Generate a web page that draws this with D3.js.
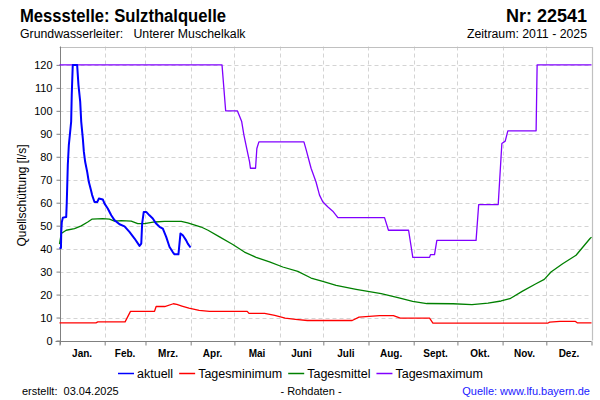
<!DOCTYPE html>
<html>
<head>
<meta charset="utf-8">
<script src="https://cdn.jsdelivr.net/npm/d3@7"></script>
<style>
  html, body { margin: 0; padding: 0; background: #fff; }
  svg { display: block; font-family: "Liberation Sans", Arial, sans-serif; }
</style>
</head>
<body>
<svg id="chart" width="600" height="400"></svg>
<script>
// ---------- data (day of year, value in l/s) ----------
const monthLabels = ["Jan.", "Feb.", "Mrz.", "Apr.", "Mai", "Juni", "Juli", "Aug.", "Sept.", "Okt.", "Nov.", "Dez."];
const monthStarts = [0, 31, 59, 90, 120, 151, 181, 212, 243, 273, 304, 334, 365];
const yTicks = [0, 10, 20, 30, 40, 50, 60, 70, 80, 90, 100, 110, 120];

const aktuellDays = [0, 1.0, 1.2, 1.6, 2.3, 4.6, 5, 5.7, 6.4, 7.1, 8, 8.4, 9.1, 12.1, 13, 14.2, 14.9, 16, 16.7, 17.6, 19, 20.1, 21.3, 22.4, 24, 25.9, 27, 29.7, 30.9, 33.1, 35.5, 37.7, 41.2, 44.6, 48, 51.5, 54.9, 56.1, 56.7, 57.8, 59.5, 61.7, 64, 66.3, 68.6, 70.9, 73.2, 75.5, 77.7, 78.9, 81.6, 83, 84.6, 86.9, 88, 89.9];
const aktuellVals = [40.3, 40.3, 47.3, 51.6, 53.5, 53.8, 60.3, 76.4, 85.1, 89.5, 95.3, 106.9, 120, 120, 111.3, 104, 95.3, 88, 82.2, 77.8, 73.4, 69.1, 66.2, 63.3, 60.3, 60.3, 61.8, 61.4, 59.6, 57.5, 54.5, 52.4, 50.6, 49.7, 47.3, 44.4, 41.2, 42.2, 50.9, 56, 56, 54.5, 53.1, 50.9, 49.5, 48.7, 45.1, 40.7, 38.5, 37.5, 37.5, 46.6, 45.8, 43.6, 42.2, 40.5];

const minDays = [0, 25, 26.3, 45, 48.7, 65.2, 66.3, 72.2, 78.1, 80.5, 84, 88.8, 95.8, 102.9, 128.8, 130, 140.7, 147.7, 154.8, 161.9, 170.1, 200.8, 205.5, 219.6, 229.1, 233.8, 253.9, 256.2, 335.2, 336.3, 343.4, 354, 355.2, 365];
const minVals = [7.7, 7.7, 8.1, 8.1, 12.7, 12.7, 14.8, 14.8, 16, 15.7, 15, 14.1, 13.1, 12.7, 12.7, 11.8, 11.8, 10.9, 9.7, 9.2, 8.7, 8.7, 10.2, 10.8, 10.8, 9.7, 9.7, 7.6, 7.6, 8, 8.3, 8.3, 7.7, 7.7];

const meanDays = [0, 1.2, 4.6, 10.3, 14.9, 19.4, 22.2, 29.7, 34.3, 37.7, 42.3, 49.2, 53.7, 58.3, 65.2, 72, 83.5, 88, 97.2, 101.9, 109.8, 118.9, 126.9, 134.9, 144.1, 153.2, 163.5, 172.6, 180.6, 189.8, 203.5, 220.7, 232.9, 242.3, 252, 270, 283, 294, 303, 309, 317.7, 326.9, 332.6, 337.2, 345.2, 354.4, 364, 365];
const meanVals = [42, 46.6, 48, 48.7, 49.9, 51.6, 52.8, 53.1, 52.8, 52, 52.2, 52, 50.9, 50.9, 51.6, 51.9, 51.9, 51.2, 49.4, 48, 45.1, 41.8, 38.5, 36.2, 34.2, 32, 30.1, 27.2, 25.7, 24, 22.3, 20.4, 18.6, 17, 16.1, 16, 15.6, 16.3, 17.2, 18.2, 21.5, 24.7, 26.6, 29.8, 33.4, 37.1, 44.4, 45];

const maxDays = [0, 111.5, 114, 122, 123, 125, 126.5, 128, 130.4, 131, 134.5, 135.4, 136.8, 167.7, 169.3, 172.6, 176, 178.4, 180.6, 184, 187.5, 191, 223, 225.7, 239.5, 242.4, 253.9, 254.6, 257.3, 258.9, 285.8, 287.6, 301, 303.5, 305.8, 307.6, 327, 327.7, 365];
const maxVals = [120, 120, 100, 100, 98.5, 95.3, 89.5, 85, 77.8, 75, 75, 83.6, 86.5, 86.5, 82.9, 75, 69, 63.3, 60.4, 58.2, 56.3, 53.5, 53.5, 48, 48, 36.2, 36.2, 37.4, 37.4, 43.6, 43.6, 59.2, 59.2, 85.8, 86.8, 91.3, 91.3, 120, 120];

const seriesNames = ["aktuell", "Tagesminimum", "Tagesmittel", "Tagesmaximum"];
const seriesColors = ["#0000ff", "#ff0000", "#008000", "#8000ff"];

// ---------- drawing ----------
const svg = d3.select("#chart");
const font = '"Liberation Sans", Arial, sans-serif';

const x = d3.scaleLinear().domain([0, 365]).range([59.5, 591.5]);
const y = d3.scaleLinear().domain([0, 128]).range([340.5, 46.5]);

// gridlines
const grid = svg.append("g").attr("stroke", "#d4d4d4").attr("stroke-dasharray", "4,3").attr("stroke-width", 1);
grid.selectAll("line.h").data(yTicks.filter(d => d > 0)).join("line")
  .attr("x1", x(0)).attr("x2", x(365))
  .attr("y1", d => Math.round(y(d)) + 0.5).attr("y2", d => Math.round(y(d)) + 0.5);
grid.selectAll("line.v").data(monthStarts.slice(1, 12)).join("line")
  .attr("x1", d => Math.round(x(d)) + 0.5).attr("x2", d => Math.round(x(d)) + 0.5)
  .attr("y1", y(128)).attr("y2", y(0));

// frame (top/right)
svg.append("path")
  .attr("d", `M${x(0)},${Math.round(y(128)) + 0.5}H${Math.round(x(365)) + 0.5}V${y(0)}`)
  .attr("fill", "none").attr("stroke", "#c0c0c0").attr("stroke-width", 1.2);

// axes
const yAxis = d3.axisLeft(y).tickValues(yTicks).tickSize(4).tickPadding(4).tickFormat(d3.format("d"));
const gy = svg.append("g").attr("transform", `translate(${Math.round(x(0)) + 0.5},0)`).call(yAxis);
gy.select(".domain").attr("stroke", "#808080").attr("d", `M0,${y(128)}V${y(0) + 4}`);
gy.selectAll(".tick line").attr("stroke", "#808080");
gy.selectAll(".tick text").attr("font-family", font).attr("font-size", 11).attr("fill", "#000");

const xAxis = d3.axisBottom(x).tickValues(monthStarts).tickSize(4).tickFormat("");
const gx = svg.append("g").attr("transform", `translate(0,${Math.round(y(0)) + 0.5})`).call(xAxis);
gx.select(".domain").attr("stroke", "#808080").attr("d", `M${x(0) - 4},0H${x(365)}`);
gx.selectAll(".tick line").attr("stroke", "#808080");

svg.append("g").selectAll("text").data(monthLabels).join("text")
  .attr("x", (d, i) => (x(monthStarts[i]) + x(monthStarts[i + 1])) / 2)
  .attr("y", 357)
  .attr("text-anchor", "middle")
  .attr("font-family", font).attr("font-size", 10).attr("font-weight", "bold")
  .text(d => d);

// series
const zip = (ds, vs) => ds.map((d, i) => [d, vs[i]]);
const line = d3.line().x(d => x(d[0])).y(d => y(d[1]));
const seriesData = [
  zip(aktuellDays, aktuellVals),
  zip(minDays, minVals),
  zip(meanDays, meanVals),
  zip(maxDays, maxVals)
];
const widths = [2, 1.3, 1.3, 1.3];
const drawOrder = [3, 2, 1, 0];
drawOrder.forEach(i => {
  svg.append("path").datum(seriesData[i])
    .attr("d", line)
    .attr("fill", "none")
    .attr("stroke", seriesColors[i])
    .attr("stroke-width", widths[i])
    .attr("stroke-linejoin", "round");
});

// axis title
svg.append("text")
  .attr("transform", `translate(26,${(y(0) + y(128)) / 2 + 2}) rotate(-90)`)
  .attr("text-anchor", "middle")
  .attr("font-family", font).attr("font-size", 12)
  .text("Quellschüttung [l/s]");

// titles
svg.append("text").attr("x", 20).attr("y", 22)
  .attr("font-family", font).attr("font-size", 17.5).attr("font-weight", "bold")
  .attr("textLength", 206).attr("lengthAdjust", "spacingAndGlyphs")
  .text("Messstelle: Sulzthalquelle");
svg.append("text").attr("x", 587).attr("y", 22).attr("text-anchor", "end")
  .attr("font-family", font).attr("font-size", 18).attr("font-weight", "bold")
  .text("Nr: 22541");
svg.append("text").attr("x", 20).attr("y", 38)
  .attr("font-family", font).attr("font-size", 12.3).attr("xml:space", "preserve")
  .text("Grundwasserleiter:   Unterer Muschelkalk");
svg.append("text").attr("x", 587).attr("y", 38).attr("text-anchor", "end")
  .attr("font-family", font).attr("font-size", 12.3)
  .text("Zeitraum: 2011 - 2025");

// legend
const legend = svg.append("g");
let lx = 0;
seriesNames.forEach((name, i) => {
  const g = legend.append("g").attr("transform", `translate(${lx},0)`);
  g.append("line").attr("x1", 0).attr("x2", 16).attr("y1", 0.5).attr("y2", 0.5)
    .attr("stroke", seriesColors[i]).attr("stroke-width", 1.5);
  const t = g.append("text").attr("x", 19).attr("y", 5)
    .attr("font-family", font).attr("font-size", 12.5).text(name);
  lx += 19 + t.node().getComputedTextLength() + 6;
});
const legendW = lx - 6;
legend.attr("transform", `translate(${Math.round(300 - legendW / 2)},373)`);

// footer
svg.append("text").attr("x", 22).attr("y", 395)
  .attr("font-family", font).attr("font-size", 11).attr("xml:space", "preserve")
  .text("erstellt:  03.04.2025");
svg.append("text").attr("x", 311).attr("y", 395).attr("text-anchor", "middle")
  .attr("font-family", font).attr("font-size", 11)
  .text("- Rohdaten -");
svg.append("text").attr("x", 590).attr("y", 395).attr("text-anchor", "end")
  .attr("font-family", font).attr("font-size", 11).attr("fill", "#2020ff")
  .text("Quelle: www.lfu.bayern.de");
</script>
</body>
</html>
